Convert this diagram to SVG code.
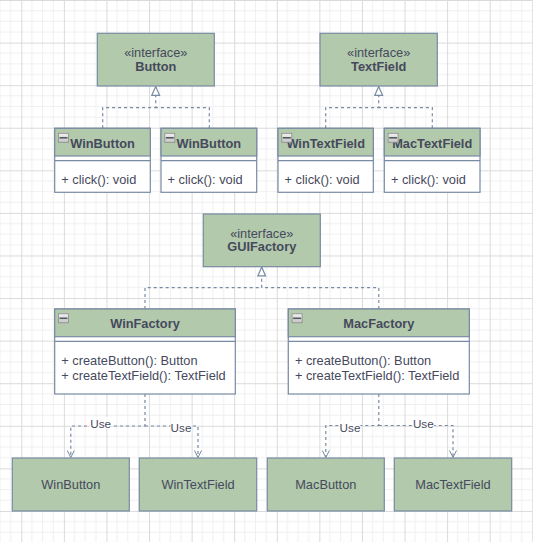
<svg xmlns="http://www.w3.org/2000/svg" width="533" height="542" viewBox="0 0 533 542">
<defs>
<pattern id="grid" patternUnits="userSpaceOnUse" x="21.3" y="0" width="42.58" height="42.58">
<path d="M10.645 0V42.58M21.29 0V42.58M31.935 0V42.58M0 10.645H42.58M0 21.29H42.58M0 31.935H42.58" stroke="#f0f0f0" stroke-width="1" fill="none"/>
<path d="M0.5 0V42.58M0 0.5H42.58" stroke="#dadada" stroke-width="1" fill="none"/>
</pattern>
<linearGradient id="ig" x1="0" y1="0" x2="0" y2="1">
<stop offset="0" stop-color="#f2f2f2"/>
<stop offset="1" stop-color="#c4c4c4"/>
</linearGradient>
<marker id="tri" markerWidth="12" markerHeight="12" refX="9.5" refY="4.5" orient="auto" markerUnits="userSpaceOnUse">
<path d="M0.6 0.6L9.5 4.5L0.6 8.4Z" fill="#ffffff" stroke="#788aa3" stroke-width="1.2"/>
</marker>
<marker id="open" markerWidth="10" markerHeight="10" refX="7.5" refY="4" orient="auto" markerUnits="userSpaceOnUse">
<path d="M0.5 0.5L7.5 4L0.5 7.5" fill="none" stroke="#788aa3" stroke-width="1"/>
</marker>
</defs>
<style>
text{font-family:"Liberation Sans",Arial,sans-serif;fill:#46495d;font-size:12.8px}
.b{font-weight:bold}
.m{text-anchor:middle}
.box{fill:#b2c9ab;stroke:#788aa3;stroke-width:1.2}
.body{fill:#ffffff;stroke:#788aa3;stroke-width:1.2}
.ln{stroke:#788aa3;stroke-width:1.2;fill:none}
.edge{stroke:#788aa3;stroke-width:1.2;fill:none;stroke-dasharray:3 3}
.icon{fill:url(#ig);stroke:#8a8a8a;stroke-width:0.8}
.minus{stroke:#555a60;stroke-width:1.6}
.lbl{font-size:11.7px}
</style>
<rect x="0" y="0" width="533" height="542" fill="#ffffff"/>
<rect x="0" y="0" width="533" height="542" fill="url(#grid)"/>

<g id="connectors">
<path class="edge" d="M209.3 128.3V107.7H155.7"/>
<path class="edge" d="M102.7 128.3V107.7H155.7V86.4" marker-end="url(#tri)"/>
<path class="edge" d="M432.3 128.3V107.7H378.7"/>
<path class="edge" d="M325.7 128.3V107.7H378.7V86.4" marker-end="url(#tri)"/>
<path class="edge" d="M378.8 309V287.7H261.7"/>
<path class="edge" d="M145 309V287.7H261.7V267" marker-end="url(#tri)"/>
<path class="edge" d="M145 394V426H70.8V457.5" marker-end="url(#open)"/>
<path class="edge" d="M145 426H198V457.5" marker-end="url(#open)"/>
<path class="edge" d="M378.8 394V425.5H325.8V457.5" marker-end="url(#open)"/>
<path class="edge" d="M378.8 425.5H453V457.5" marker-end="url(#open)"/>
<rect x="90" y="417" width="21" height="12" fill="#ffffff"/>
<text class="lbl m" x="100.7" y="427.5">Use</text>
<rect x="170.5" y="421.5" width="21" height="12" fill="#ffffff"/>
<text class="lbl m" x="181" y="432">Use</text>
<rect x="339.5" y="421.5" width="21" height="12" fill="#ffffff"/>
<text class="lbl m" x="350" y="432">Use</text>
<rect x="413" y="417" width="21" height="12" fill="#ffffff"/>
<text class="lbl m" x="423.3" y="427.5">Use</text>
</g>

<g id="Button">
<rect class="box" x="97.3" y="33.3" width="117" height="52.7"/>
<text class="m" x="155.8" y="56.8">«interface»</text>
<text class="m b" x="155.8" y="70.5">Button</text>
</g>

<g id="TextField">
<rect class="box" x="320" y="33.3" width="117.3" height="52.7"/>
<text class="m" x="378.7" y="56.8">«interface»</text>
<text class="m b" x="378.7" y="70.5">TextField</text>
</g>

<g id="WinButton1">
<rect class="body" x="54.7" y="128.3" width="95.6" height="64"/>
<rect class="box" x="54.7" y="128.3" width="95.6" height="27.7"/>
<line class="ln" x1="54.7" y1="160.7" x2="150.3" y2="160.7"/>
<text class="m b" x="102.5" y="147.8">WinButton</text>
<rect class="icon" x="58.5" y="133.3" width="10" height="9"/>
<line class="minus" x1="59.5" y1="137.8" x2="67.5" y2="137.8"/>
<text x="61.3" y="183.8">+ click(): void</text>
</g>

<g id="WinButton2">
<rect class="body" x="161" y="128.3" width="95.7" height="64"/>
<rect class="box" x="161" y="128.3" width="95.7" height="27.7"/>
<line class="ln" x1="161" y1="160.7" x2="256.7" y2="160.7"/>
<text class="m b" x="208.8" y="147.8">WinButton</text>
<rect class="icon" x="164.8" y="133.3" width="10" height="9"/>
<line class="minus" x1="165.8" y1="137.8" x2="173.8" y2="137.8"/>
<text x="167.6" y="183.8">+ click(): void</text>
</g>

<g id="WinTextField">
<rect class="body" x="278" y="128.3" width="95.3" height="64"/>
<rect class="box" x="278" y="128.3" width="95.3" height="27.7"/>
<line class="ln" x1="278" y1="160.7" x2="373.3" y2="160.7"/>
<text class="m b" x="325.7" y="147.8">WinTextField</text>
<rect class="icon" x="281.8" y="133.3" width="10" height="9"/>
<line class="minus" x1="282.8" y1="137.8" x2="290.8" y2="137.8"/>
<text x="284.6" y="183.8">+ click(): void</text>
</g>

<g id="MacTextField">
<rect class="body" x="384.3" y="128.3" width="95.7" height="64"/>
<rect class="box" x="384.3" y="128.3" width="95.7" height="27.7"/>
<line class="ln" x1="384.3" y1="160.7" x2="480" y2="160.7"/>
<text class="m b" x="432.2" y="147.8">MacTextField</text>
<rect class="icon" x="388.1" y="133.3" width="10" height="9"/>
<line class="minus" x1="389.1" y1="137.8" x2="397.1" y2="137.8"/>
<text x="390.9" y="183.8">+ click(): void</text>
</g>

<g id="GUIFactory">
<rect class="box" x="203.3" y="214" width="117" height="52.7"/>
<text class="m" x="261.8" y="237.5">«interface»</text>
<text class="m b" x="261.8" y="251.2">GUIFactory</text>
</g>

<g id="WinFactory">
<rect class="body" x="54.7" y="309" width="180.6" height="85"/>
<rect class="box" x="54.7" y="309" width="180.6" height="27.7"/>
<line class="ln" x1="54.7" y1="341.3" x2="235.3" y2="341.3"/>
<rect class="icon" x="58.5" y="313.8" width="10" height="9"/>
<line class="minus" x1="59.5" y1="318.3" x2="67.5" y2="318.3"/>
<text class="m b" x="145" y="328.2">WinFactory</text>
<text x="61.3" y="365.2">+ createButton(): Button</text>
<text x="61.3" y="379.5">+ createTextField(): TextField</text>
</g>

<g id="MacFactory">
<rect class="body" x="288.3" y="309" width="181" height="85"/>
<rect class="box" x="288.3" y="309" width="181" height="27.7"/>
<line class="ln" x1="288.3" y1="341.3" x2="469.3" y2="341.3"/>
<rect class="icon" x="292.1" y="313.8" width="10" height="9"/>
<line class="minus" x1="293.1" y1="318.3" x2="301.1" y2="318.3"/>
<text class="m b" x="378.8" y="328.2">MacFactory</text>
<text x="294.9" y="365.2">+ createButton(): Button</text>
<text x="294.9" y="379.5">+ createTextField(): TextField</text>
</g>

<g id="WinButtonImpl">
<rect class="box" x="12.3" y="458" width="117" height="53"/>
<text class="m" x="70.8" y="488.8">WinButton</text>
</g>

<g id="WinTextFieldImpl">
<rect class="box" x="139.3" y="458" width="117.4" height="53"/>
<text class="m" x="198" y="488.8">WinTextField</text>
</g>

<g id="MacButton">
<rect class="box" x="267.3" y="458" width="117" height="53"/>
<text class="m" x="325.8" y="488.8">MacButton</text>
</g>

<g id="MacTextFieldImpl">
<rect class="box" x="394.3" y="458" width="117.4" height="53"/>
<text class="m" x="453" y="488.8">MacTextField</text>
</g>
</svg>
